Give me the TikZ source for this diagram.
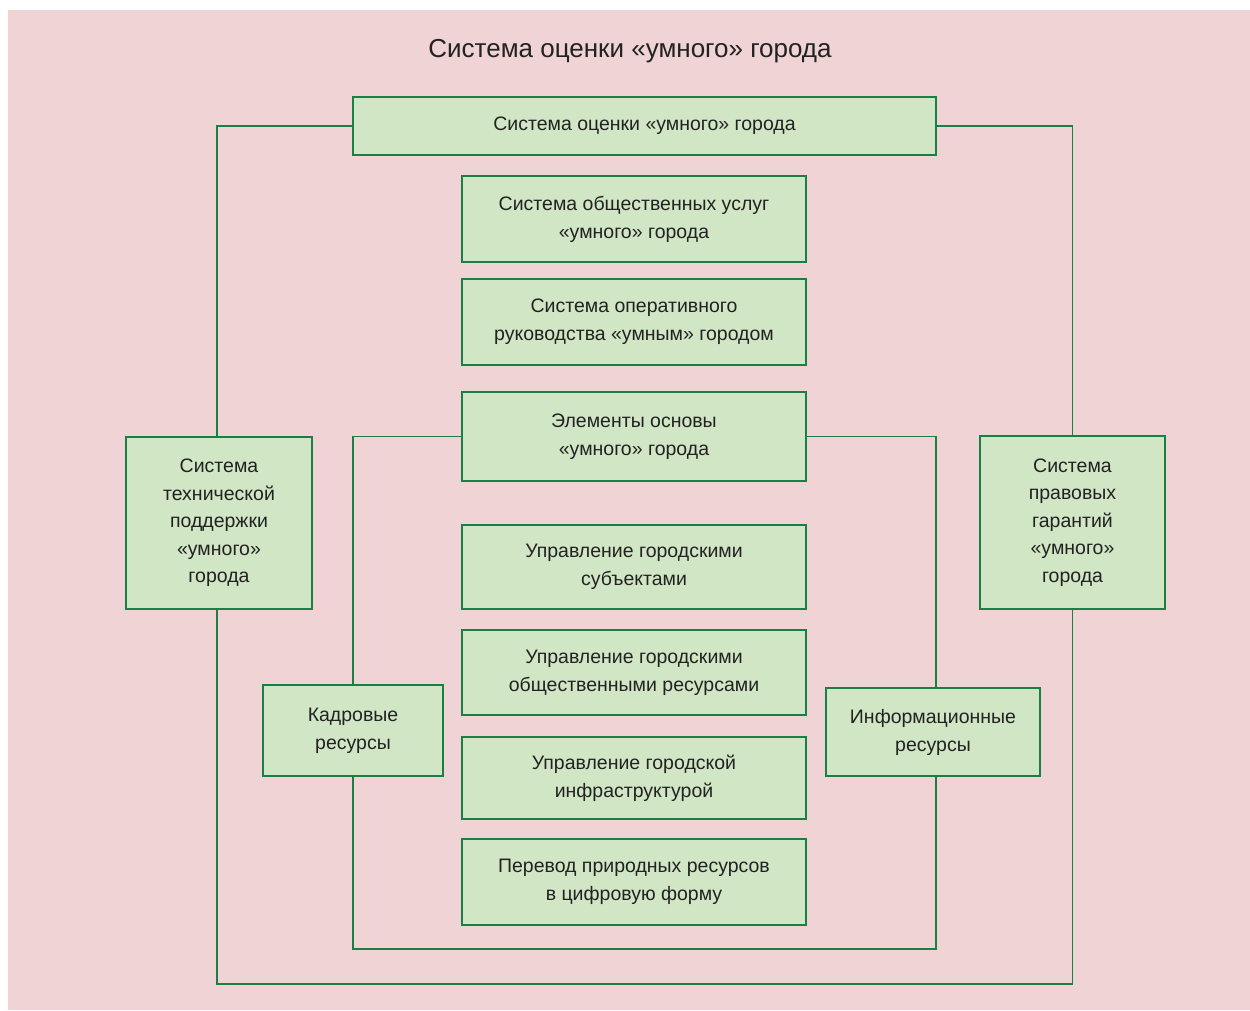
\documentclass[tikz,border=0pt]{standalone}
\usepackage{fontspec}
\setmainfont{Liberation Sans}
\definecolor{bgpink}{HTML}{F0D3D4}
\definecolor{boxfill}{HTML}{D1E6C5}
\definecolor{boxline}{HTML}{1A7F45}
\definecolor{txt}{HTML}{222222}
\tikzset{
  gbox/.style={draw=boxline, fill=boxfill, line width=1.8pt, align=center, inner sep=0pt,
    text=txt, font=\fontsize{19.5}{28}\selectfont},
  conn/.style={draw=boxline, line width=1.9pt}
}
\begin{document}
\begin{tikzpicture}[x=1pt,y=-1pt]
\useasboundingbox (0,0) rectangle (1250,1010);
\fill[bgpink] (8,10) rectangle (1250,1010);
\node[text=txt, font=\fontsize{26}{30}\selectfont] (title) at (630,51) {Система оценки «умного» города};
\coordinate (ob) at (0,984);
\coordinate (ib) at (0,949);
\coordinate (olx) at (217,0);
\coordinate (irx) at (936,0);
\node[gbox, minimum width=583pt, minimum height=58pt] (top) at (644.5,126) {Система оценки «умного» города};
\node[gbox, minimum width=344pt, minimum height=86pt] (b2) at (634,219) {Система общественных услуг\\«умного» города};
\node[gbox, minimum width=344pt, minimum height=86pt] (b3) at (634,322) {Система оперативного\\руководства «умным» городом};
\node[gbox, minimum width=344pt, minimum height=89pt] (b4) at (634,436.5) {Элементы основы\\«умного» города};
\node[gbox, minimum width=344pt, minimum height=84pt] (b5) at (634,567) {Управление городскими\\субъектами};
\node[gbox, minimum width=344pt, minimum height=85pt] (b6) at (634,672.5) {Управление городскими\\общественными ресурсами};
\node[gbox, minimum width=344pt, minimum height=82pt] (b7) at (634,778) {Управление городской\\инфраструктурой};
\node[gbox, minimum width=344pt, minimum height=86pt] (b8) at (634,882) {Перевод природных ресурсов\\в цифровую форму};
\node[gbox, minimum width=186pt, minimum height=172pt, font=\fontsize{19.5}{27.5}\selectfont] (left) at (219,523) {Система\\технической\\поддержки\\«умного»\\города};
\node[gbox, minimum width=185pt, minimum height=173pt, font=\fontsize{19.5}{27.5}\selectfont] (right) at (1072.5,522.5) {Система\\правовых\\гарантий\\«умного»\\города};
\node[gbox, minimum width=180pt, minimum height=91pt] (kadr) at (353,730.5) {Кадровые\\ресурсы};
\node[gbox, minimum width=214pt, minimum height=88pt] (info) at (933,732) {Информационные\\ресурсы};
\begin{scope}[on background layer/.try]
\draw[conn] (top.west) -- (top.west -| olx) -- (olx |- left.north);
\draw[conn] (top.east) -| (right.north);
\draw[conn] (olx |- left.south) -- (olx |- ob) -- (right.south |- ob) -- (right.south);
\draw[conn] (b4.west) -| (kadr.north);
\draw[conn] (b4.east) -- (b4.east -| irx) -- (irx |- info.north);
\draw[conn] (kadr.south) -- (kadr.south |- ib) -- (irx |- ib) -- (irx |- info.south);
\end{scope}
\end{tikzpicture}
\end{document}
